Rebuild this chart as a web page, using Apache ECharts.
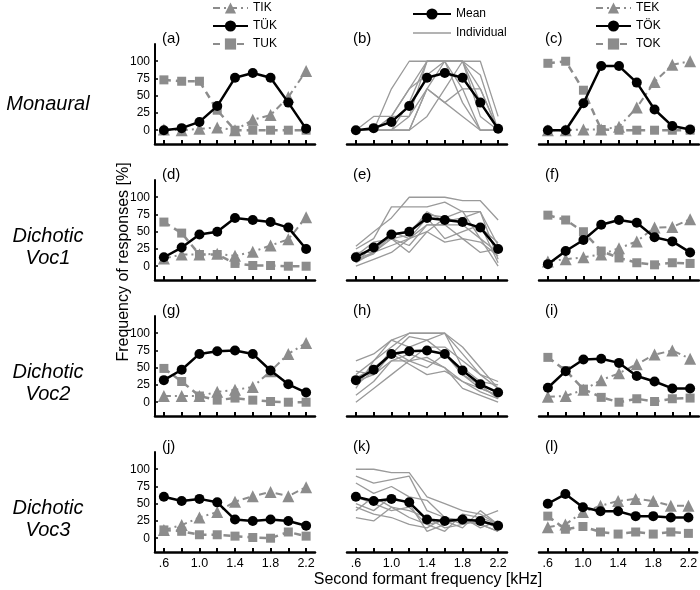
<!DOCTYPE html>
<html><head><meta charset="utf-8">
<script src="https://cdn.jsdelivr.net/npm/echarts@6/dist/echarts.min.js"></script>
<style>html,body{margin:0;padding:0;background:#fff}#c{width:700px;height:590px}</style>
</head><body><div id="c"></div>
<script>
// ---------- DATA ----------
const categories = ['.6', '.8', '1.0', '1.2', '1.4', '1.6', '1.8', '2.0', '2.2'];
const yTickValues = [0, 25, 50, 75, 100];
const rowNames = ['Monaural', 'Dichotic\nVoc1', 'Dichotic\nVoc2', 'Dichotic\nVoc3'];
const panelLetters = ['(a)', '(b)', '(c)', '(d)', '(e)', '(f)', '(g)', '(h)', '(i)', '(j)', '(k)', '(l)'];

// Monaural
const a_TIK = [1, 0, 2, 4, 0, 15, 22, 48, 86];
const a_TUEK = [0, 3, 12, 35, 76, 83, 76, 40, 2];
const a_TUK = [73, 71, 71, 29, 0, 0, 0, 0, 0];
const b_individual = [
  [0, 20, 20, 60, 100, 100, 100, 60, 0],
  [0, 0, 20, 20, 100, 100, 100, 20, 0],
  [0, 0, 0, 0, 60, 100, 100, 100, 20],
  [0, 0, 60, 100, 100, 100, 60, 0, 0],
  [0, 0, 0, 40, 100, 100, 100, 80, 0],
  [0, 0, 0, 0, 20, 60, 100, 40, 0],
  [0, 0, 20, 60, 80, 100, 40, 0, 0],
  [0, 0, 0, 0, 60, 40, 60, 60, 0],
  [0, 0, 0, 20, 60, 40, 20, 0, 0]
];
const c_TEK = [0, 0, 1, 1, 5, 33, 70, 95, 100];
const c_TOEK = [0, 0, 39, 93, 93, 69, 30, 6, 1];
const c_TOK = [97, 100, 58, 1, 0, 0, 0, 0, 0];

// Dichotic Voc1
const d_TIK = [11, 17, 17, 18, 15, 21, 30, 39, 71];
const d_TUEK = [13, 27, 46, 50, 70, 67, 64, 56, 25];
const d_TUK = [64, 48, 17, 17, 4, 1, 1, 0, 0];
const e_individual = [
  [29, 50, 70, 100, 100, 100, 95, 95, 67],
  [25, 40, 86, 86, 86, 93, 79, 79, 30],
  [5, 20, 40, 45, 79, 65, 70, 79, 10],
  [0, 10, 20, 40, 70, 40, 50, 60, 5],
  [15, 35, 40, 30, 60, 60, 60, 40, 20],
  [10, 20, 50, 40, 50, 35, 40, 35, 15],
  [5, 30, 40, 20, 50, 70, 80, 40, 0],
  [20, 20, 30, 40, 60, 60, 40, 20, 25],
  [8, 18, 46, 50, 75, 71, 62, 56, 34]
];
const f_TEK = [7, 10, 13, 17, 26, 36, 56, 57, 68];
const f_TOEK = [3, 22, 38, 60, 67, 63, 42, 36, 20];
const f_TOK = [74, 67, 50, 22, 12, 5, 2, 5, 4];

// Dichotic Voc2
const g_TIK = [9, 9, 9, 15, 18, 22, 45, 70, 86];
const g_TUEK = [32, 47, 70, 74, 75, 70, 46, 26, 14];
const g_TUK = [49, 30, 9, 3, 6, 3, 1, 0, 0];
const h_individual = [
  [40, 60, 80, 100, 100, 100, 70, 40, 30],
  [20, 60, 90, 100, 100, 100, 80, 50, 20],
  [30, 40, 70, 95, 90, 100, 50, 30, 25],
  [60, 70, 90, 80, 90, 70, 40, 20, 10],
  [10, 30, 60, 60, 80, 80, 60, 40, 20],
  [45, 40, 60, 70, 60, 50, 20, 10, 0],
  [25, 45, 75, 60, 50, 70, 40, 25, 5],
  [0, 20, 40, 60, 65, 50, 30, 20, 10],
  [35, 50, 70, 55, 40, 45, 30, 15, 5]
];
const i_TEK = [8, 9, 18, 32, 42, 55, 69, 75, 63];
const i_TOEK = [21, 45, 62, 63, 57, 38, 30, 20, 20];
const i_TOK = [65, 46, 19, 7, 0, 5, 1, 5, 6];

// Dichotic Voc3
const j_TIK = [12, 19, 30, 38, 53, 61, 67, 61, 74];
const j_TUEK = [60, 54, 57, 52, 27, 25, 27, 25, 18];
const j_TUK = [12, 10, 5, 5, 3, 1, 0, 9, 3];
const k_individual = [
  [100, 100, 95, 95, 60, 50, 40, 35, 20],
  [90, 80, 85, 90, 40, 30, 25, 20, 10],
  [80, 65, 75, 60, 55, 30, 20, 25, 15],
  [60, 50, 40, 45, 20, 10, 35, 30, 40],
  [50, 40, 60, 50, 10, 20, 30, 15, 25],
  [40, 60, 45, 30, 20, 25, 15, 40, 20],
  [45, 35, 30, 20, 15, 30, 25, 20, 10],
  [30, 25, 45, 40, 30, 15, 20, 30, 20]
];
const l_TEK = [16, 20, 38, 47, 54, 57, 54, 47, 47];
const l_TOEK = [50, 64, 45, 39, 39, 32, 32, 30, 30];
const l_TOK = [32, 13, 17, 9, 6, 9, 6, 9, 7];

// ---------- LAYOUT / STYLE ----------
const FONT = 'Liberation Sans, Arial, Helvetica, sans-serif';
const GRAY = '#8c8c8c';
const IND_GRAY = '#9a9a9a';
const gridLeft = [155, 347, 539];
const gridTop = [44, 180, 316, 452];
const gridW = 160, gridH = 100;

const styles = {
  tri: { symbol: 'triangle', symbolSize: 12, itemStyle: { color: GRAY }, lineStyle: { color: GRAY, width: 2, type: [7, 4, 2, 4] }, z: 3 },
  sq: { symbol: 'rect', symbolSize: 9, itemStyle: { color: GRAY }, lineStyle: { color: GRAY, width: 2.5, type: [7, 5] }, z: 4 },
  circ: { symbol: 'circle', symbolSize: 10, itemStyle: { color: '#000' }, lineStyle: { color: '#000', width: 2.5, type: 'solid' }, z: 5 },
  ind: { symbol: 'none', itemStyle: { color: IND_GRAY }, lineStyle: { color: IND_GRAY, width: 1.3, type: 'solid' }, z: 2 }
};

const grids = [], xAxes = [], yAxes = [], series = [];
for (let r = 0; r < 4; r++) {
  for (let c = 0; c < 3; c++) {
    const gi = r * 3 + c;
    grids.push({ left: gridLeft[c], top: gridTop[r], width: gridW, height: gridH });
    xAxes.push({
      gridIndex: gi, type: 'category', data: categories, boundaryGap: true,
      axisLine: { show: true, onZero: false, lineStyle: { color: '#000', width: 2.5 } },
      axisTick: { show: true, inside: true, length: 4, alignWithLabel: true, interval: 0, lineStyle: { color: '#000', width: 2 } },
      axisLabel: { show: r === 3, interval: 1, color: '#000', fontSize: 12.5, fontFamily: FONT, margin: 5 },
      splitLine: { show: false }
    });
    yAxes.push({
      gridIndex: gi, type: 'value', min: -20, max: 125,
      axisLine: { show: c === 0, lineStyle: { color: '#000', width: 2 } },
      axisTick: { show: c === 0, inside: true, length: 3, customValues: yTickValues, lineStyle: { color: '#000', width: 1.5 } },
      axisLabel: { show: c === 0, customValues: yTickValues, color: '#000', fontSize: 12, fontFamily: FONT, margin: 5 },
      splitLine: { show: false }
    });
  }
}

function addSeries(name, data, gi, kind) {
  const s = styles[kind];
  series.push({
    type: 'line', name: name, data: data, xAxisIndex: gi, yAxisIndex: gi,
    symbol: s.symbol, symbolSize: s.symbolSize || 0, showSymbol: kind !== 'ind', showAllSymbol: true,
    itemStyle: Object.assign({ borderWidth: 0 }, s.itemStyle), lineStyle: s.lineStyle, z: s.z,
    emphasis: { disabled: true }, silent: true, animation: false
  });
}

const leftPanels = [[a_TIK, a_TUEK, a_TUK], [d_TIK, d_TUEK, d_TUK], [g_TIK, g_TUEK, g_TUK], [j_TIK, j_TUEK, j_TUK]];
const rightPanels = [[c_TEK, c_TOEK, c_TOK], [f_TEK, f_TOEK, f_TOK], [i_TEK, i_TOEK, i_TOK], [l_TEK, l_TOEK, l_TOK]];
const indivPanels = [b_individual, e_individual, h_individual, k_individual];

for (let r = 0; r < 4; r++) {
  const L = leftPanels[r], R = rightPanels[r];
  addSeries('TIK', L[0], r * 3, 'tri');
  addSeries('TUK', L[2], r * 3, 'sq');
  addSeries('TÜK', L[1], r * 3, 'circ');
  indivPanels[r].forEach(d => addSeries('Individual', d, r * 3 + 1, 'ind'));
  addSeries('Mean', L[1], r * 3 + 1, 'circ');
  addSeries('TEK', R[0], r * 3 + 2, 'tri');
  addSeries('TOK', R[2], r * 3 + 2, 'sq');
  addSeries('TÖK', R[1], r * 3 + 2, 'circ');
}

const legendText = { color: '#000', fontSize: 12, fontFamily: FONT, lineHeight: 14 };
const legends = [
  { data: ['TIK', 'TÜK', 'TUK'], orient: 'vertical', left: 212, top: 1, padding: 0, itemWidth: 35, itemHeight: 14, itemGap: 4, textStyle: legendText, selectedMode: false },
  { data: ['Mean', { name: 'Individual', icon: 'path://M0,0 L38,0 L38,1.4 L0,1.4 Z' }], orient: 'vertical', left: 412, top: 7, padding: 0, itemWidth: 38, itemHeight: 14, itemGap: 5, textStyle: legendText, selectedMode: false, symbolKeepAspect: true },
  { data: ['TEK', 'TÖK', 'TOK'], orient: 'vertical', left: 595, top: 1, padding: 0, itemWidth: 35, itemHeight: 14, itemGap: 4, textStyle: legendText, selectedMode: false }
];

const graphics = [];
const rowLabelY = [104, 247, 383, 519];
rowNames.forEach((t, r) => graphics.push({
  type: 'text', x: 48, y: rowLabelY[r],
  style: { text: t, fill: '#000', font: 'italic 20px ' + FONT, textAlign: 'center', textVerticalAlign: 'middle', lineHeight: 22 }
}));
const panelX = [162, 353, 545];
const panelY = [39, 175, 311, 447];
panelLetters.forEach((t, i) => graphics.push({
  type: 'text', x: panelX[i % 3], y: panelY[Math.floor(i / 3)],
  style: { text: t, fill: '#000', font: '15px ' + FONT, textAlign: 'left', textVerticalAlign: 'middle' }
}));
graphics.push({
  type: 'text', x: 124, y: 262, rotation: Math.PI / 2,
  style: { text: 'Frequency of responses [%]', fill: '#000', font: '16px ' + FONT, textAlign: 'center', textVerticalAlign: 'middle' }
});
graphics.push({
  type: 'text', x: 428, y: 580,
  style: { text: 'Second formant frequency [kHz]', fill: '#000', font: '16px ' + FONT, textAlign: 'center', textVerticalAlign: 'middle' }
});

const chart = echarts.init(document.getElementById('c'), null, { renderer: 'canvas' });
chart.setOption({
  animation: false,
  backgroundColor: '#fff',
  grid: grids, xAxis: xAxes, yAxis: yAxes, series: series,
  legend: legends,
  graphic: graphics
});
</script>
</body></html>
